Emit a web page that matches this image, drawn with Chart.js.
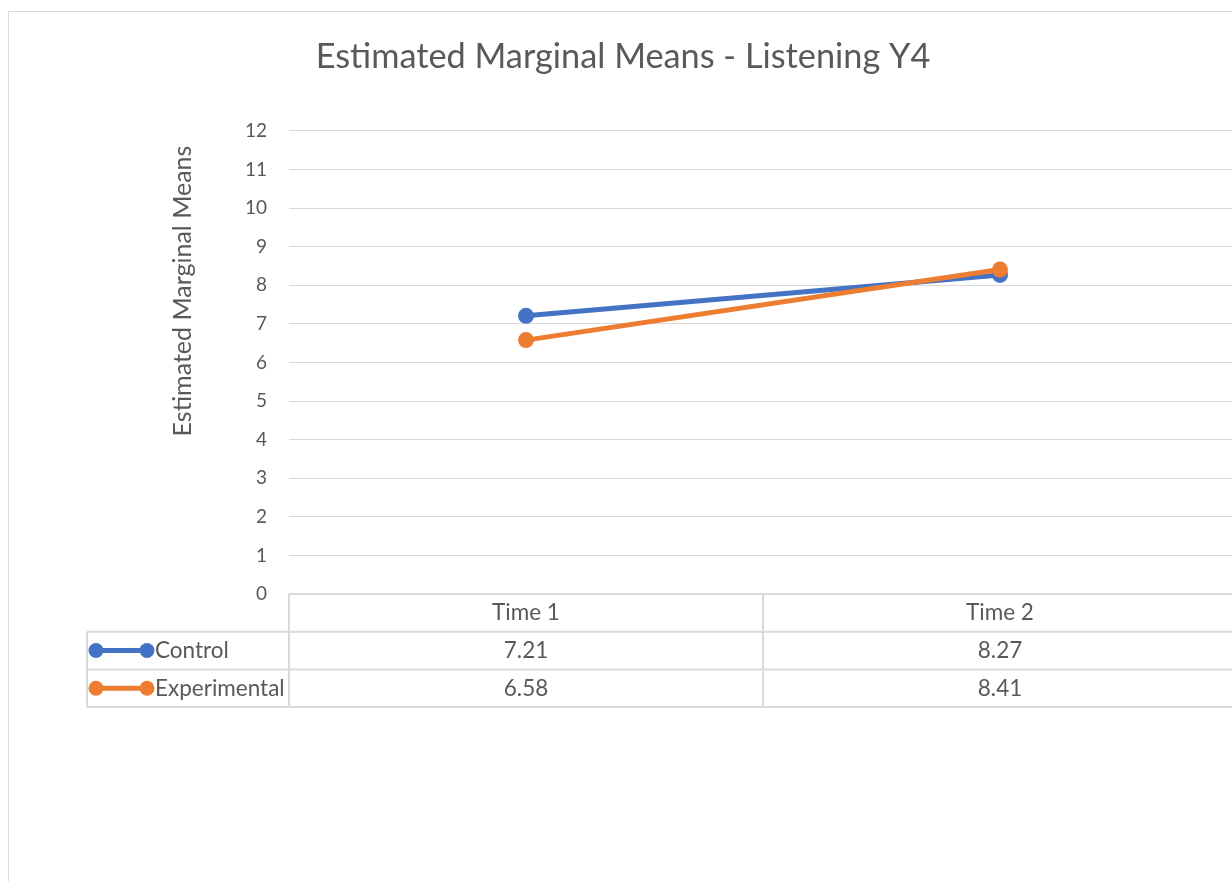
<!DOCTYPE html>
<html lang="en">
<head>
<meta charset="UTF-8">
<title>Estimated Marginal Means - Listening Y4</title>
<script src="https://cdn.jsdelivr.net/npm/chart.js"></script>
<style>
  html, body { margin: 0; padding: 0; background: #fff; overflow: hidden; }
  #frame { position: absolute; left: 8px; top: 11px; width: 1228px; height: 870px; border: 1px solid #d9d9d9; }
  #emmChart { display: block; }
</style>
</head>
<body>
<div id="frame"><canvas id="emmChart" width="1228" height="870"></canvas></div>
<script>
// data
const categories = ['Time 1', 'Time 2'];
const controlMeans = [7.21, 8.27];
const experimentalMeans = [6.58, 8.41];
const seriesNames = ['Control', 'Experimental'];
const seriesColors = ['#4472C4', '#ED7D31'];
const yMin = 0, yMax = 12, yStep = 1;

const textColor = '#595959';
const ruleColor = '#d9d9d9';
const fontFamily = 'Lato, "Open Sans", sans-serif';

// data table under the plot + rotated axis title
const dataTable = {
  id: 'dataTable',
  afterDraw(chart) {
    const ctx = chart.ctx;
    const x = chart.scales.x;
    const area = chart.chartArea;
    const seriesValues = [controlMeans, experimentalMeans];
    const colW = (x.right - x.left) / categories.length;
    const rowH = 37.7;
    const keyLeft = 78;
    const top = area.bottom;
    const nRows = seriesValues.length + 1;

    ctx.save();
    ctx.strokeStyle = ruleColor;
    ctx.lineWidth = 2;
    ctx.beginPath();
    ctx.moveTo(area.left, top);
    ctx.lineTo(x.right, top);
    for (let r = 1; r <= nRows; r++) {
      ctx.moveTo(keyLeft, top + r * rowH);
      ctx.lineTo(x.right, top + r * rowH);
    }
    ctx.moveTo(keyLeft, top + rowH);
    ctx.lineTo(keyLeft, top + nRows * rowH);
    for (let c = 0; c <= categories.length; c++) {
      const cx = x.left + c * colW;
      ctx.moveTo(cx, top);
      ctx.lineTo(cx, top + nRows * rowH);
    }
    ctx.stroke();

    ctx.font = '22.5px ' + fontFamily;
    ctx.fillStyle = textColor;
    ctx.textBaseline = 'middle';
    ctx.textAlign = 'center';
    categories.forEach((cat, i) => {
      ctx.fillText(cat, x.getPixelForValue(i), top + rowH / 2);
    });

    seriesValues.forEach((vals, s) => {
      const cy = top + (s + 1.5) * rowH;
      // legend key
      ctx.strokeStyle = seriesColors[s];
      ctx.fillStyle = seriesColors[s];
      ctx.lineWidth = 5;
      ctx.beginPath();
      ctx.moveTo(87, cy);
      ctx.lineTo(138, cy);
      ctx.stroke();
      [87, 138].forEach(px => {
        ctx.beginPath();
        ctx.arc(px, cy, 7.5, 0, Math.PI * 2);
        ctx.fill();
      });
      ctx.fillStyle = textColor;
      ctx.textAlign = 'left';
      ctx.fillText(seriesNames[s], 146, cy);
      ctx.textAlign = 'center';
      vals.forEach((v, i) => {
        ctx.fillText(v.toFixed(2), x.getPixelForValue(i), cy);
      });
    });

    // y axis title
    ctx.translate(174, 279);
    ctx.rotate(-Math.PI / 2);
    ctx.font = '25px ' + fontFamily;
    ctx.textAlign = 'center';
    ctx.fillText('Estimated Marginal Means', 0, 0);
    ctx.restore();
  }
};

new Chart(document.getElementById('emmChart'), {
  type: 'line',
  data: {
    labels: categories,
    datasets: [controlMeans, experimentalMeans].map((vals, s) => ({
      label: seriesNames[s],
      data: vals,
      borderColor: seriesColors[s],
      backgroundColor: seriesColors[s],
      borderWidth: 5,
      pointRadius: 8,
      pointHoverRadius: 8,
      pointBorderWidth: 0,
      pointBackgroundColor: seriesColors[s],
      tension: 0,
      order: seriesNames.length - s
    }))
  },
  options: {
    responsive: false,
    animation: false,
    layout: { autoPadding: false, padding: { left: 0, right: 0, top: 0, bottom: 288 } },
    plugins: {
      legend: { display: false },
      tooltip: { enabled: false },
      title: {
        display: true,
        text: 'Estimated Marginal Means - Listening Y4',
        color: textColor,
        font: { family: fontFamily, size: 34.3, weight: 'normal' },
        padding: { top: 24.4, bottom: 53.4 }
      }
    },
    scales: {
      x: {
        display: false,
        offset: true
      },
      y: {
        min: yMin,
        max: yMax,
        afterFit(scale) { scale.width = 280; },
        ticks: {
          stepSize: yStep,
          color: textColor,
          padding: 22,
          font: { family: fontFamily, size: 19 }
        },
        grid: { color: ruleColor, lineWidth: 1, drawTicks: false },
        border: { display: false }
      }
    }
  },
  plugins: [dataTable]
});
</script>
</body>
</html>
